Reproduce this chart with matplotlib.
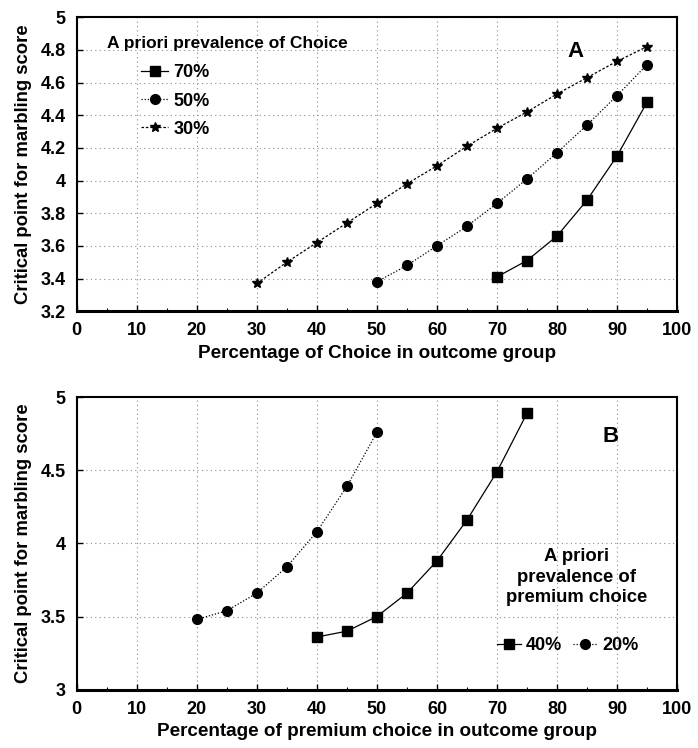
import matplotlib.pyplot as plt
from matplotlib.ticker import MultipleLocator

# Panel A data
xa_30 = [30, 35, 40, 45, 50, 55, 60, 65, 70, 75, 80, 85, 90, 95]
ya_30 = [3.37, 3.50, 3.62, 3.74, 3.86, 3.98, 4.09, 4.21, 4.32, 4.42, 4.53, 4.63, 4.73, 4.82]
xa_50 = [50, 55, 60, 65, 70, 75, 80, 85, 90, 95]
ya_50 = [3.38, 3.48, 3.60, 3.72, 3.86, 4.01, 4.17, 4.34, 4.52, 4.71]
xa_70 = [70, 75, 80, 85, 90, 95]
ya_70 = [3.41, 3.51, 3.66, 3.88, 4.15, 4.48]

# Panel B data
xb_20 = [20, 25, 30, 35, 40, 45, 50]
yb_20 = [3.48, 3.54, 3.66, 3.84, 4.08, 4.39, 4.76]
xb_40 = [40, 45, 50, 55, 60, 65, 70, 75]
yb_40 = [3.36, 3.40, 3.50, 3.66, 3.88, 4.16, 4.49, 4.89]

plt.rcParams['font.family'] = ['Liberation Sans', 'DejaVu Sans']
plt.rcParams['font.weight'] = 'bold'

fig = plt.figure(figsize=(6.98, 7.48), dpi=100)
axA = fig.add_axes([0.110, 0.584, 0.860, 0.393])
axB = fig.add_axes([0.110, 0.078, 0.860, 0.391])


def style_axes(ax, ymin, ymax, ystep, xlabel):
    ax.set_xlim(0, 100)
    ax.set_ylim(ymin, ymax)
    ax.xaxis.set_major_locator(MultipleLocator(10))
    ax.xaxis.set_minor_locator(MultipleLocator(5))
    ax.yaxis.set_major_locator(MultipleLocator(ystep))
    ax.tick_params(which='both', direction='in', top=False, right=False)
    ax.tick_params(which='major', length=4, width=1, labelsize=13, pad=8)
    ax.tick_params(which='minor', length=2.5, width=0.8)
    for lab in ax.get_xticklabels() + ax.get_yticklabels():
        lab.set_fontweight('bold')
    for s in ax.spines.values():
        s.set_linewidth(1.5)
    ax.spines['bottom'].set_linewidth(2.2)
    ax.grid(True, which='major', color='0.55', linestyle=(0, (1, 3)), linewidth=0.8)
    ax.set_xlabel(xlabel, fontsize=13.6, fontweight='bold', labelpad=4)
    ax.set_ylabel('Critical point for marbling score', fontsize=13.3, fontweight='bold', labelpad=6)


style_axes(axA, 3.2, 5.0, 0.2, 'Percentage of Choice in outcome group')
axA.set_yticks([3.2, 3.4, 3.6, 3.8, 4.0, 4.2, 4.4, 4.6, 4.8, 5.0])
axA.set_yticklabels(['3.2', '3.4', '3.6', '3.8', '4', '4.2', '4.4', '4.6', '4.8', '5'], fontweight='bold')

l70, = axA.plot(xa_70, ya_70, color='black', lw=0.9, linestyle='-', marker='s', ms=7, label='70%')
l50, = axA.plot(xa_50, ya_50, color='black', lw=0.9, linestyle=(0, (1, 1.5)), marker='o', ms=7, label='50%')
l30, = axA.plot(xa_30, ya_30, color='black', lw=0.9, linestyle=(0, (2, 1.5)), marker='*', ms=7, label='30%')

axA.text(5, 4.84, 'A priori prevalence of Choice', fontsize=12.5, fontweight='bold', va='center', ha='left')
axA.text(83, 4.79, 'A', fontsize=16, fontweight='bold', va='center', ha='center')
axA.legend(handles=[l70, l50, l30], loc='upper left', bbox_to_anchor=(0.08, 0.895),
           frameon=False, handlelength=1.5, handletextpad=0.3,
           labelspacing=0.62, prop={'weight': 'bold', 'size': 13})

style_axes(axB, 3.0, 5.0, 0.5, 'Percentage of premium choice in outcome group')
axB.set_yticks([3.0, 3.5, 4.0, 4.5, 5.0])
axB.set_yticklabels(['3', '3.5', '4', '4.5', '5'], fontweight='bold')

l40, = axB.plot(xb_40, yb_40, color='black', lw=0.9, linestyle='-', marker='s', ms=7, label='40%')
l20, = axB.plot(xb_20, yb_20, color='black', lw=0.9, linestyle=(0, (1, 1.5)), marker='o', ms=7, label='20%')

axB.text(89, 4.73, 'B', fontsize=16, fontweight='bold', va='center', ha='center')
axB.text(83.3, 3.77, 'A priori\nprevalence of\npremium choice', fontsize=13.3, fontweight='bold',
         va='center', ha='center', linespacing=1.25)
axB.legend(handles=[l40, l20], loc='center', bbox_to_anchor=(0.818, 0.15), ncol=2,
           frameon=False, handlelength=1.3, handletextpad=0.3, columnspacing=0.6,
           prop={'weight': 'bold', 'size': 13})

fig.savefig('out.png', dpi=100, facecolor='w')
